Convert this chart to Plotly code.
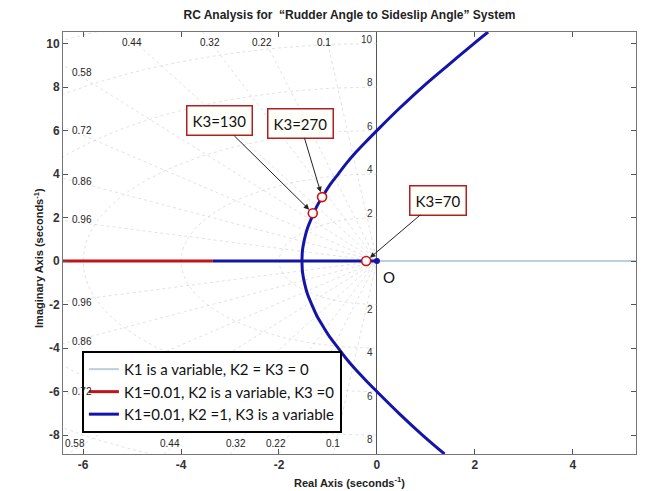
import numpy as np
import plotly.graph_objects as go

# ---- root-locus data (real, imaginary) ----
k1_re = [0.0, 5.3]
k1_im = [0.0, 0.0]

k2_re = [-6.45, -3.35]
k2_im = [0.0, 0.0]

k3_axis_re = [-3.35, 0.0]
k3_axis_im = [0.0, 0.0]

k3_upper_re = [-1.53, -1.52, -1.48, -1.42, -1.33, -1.23, -1.10, -0.96, -0.79, -0.62, -0.43, -0.22, 0.0, 0.45, 0.93, 1.45, 1.98, 2.27]
k3_upper_im = [0.0, 0.5, 1.0, 1.5, 2.0, 2.5, 3.0, 3.5, 4.0, 4.5, 5.0, 5.5, 6.0, 7.0, 8.0, 9.0, 10.0, 10.53]
k3_lower_re = [-1.53, -1.52, -1.48, -1.42, -1.33, -1.23, -1.10, -0.96, -0.79, -0.62, -0.43, -0.22, 0.0, 0.45, 0.93, 1.38]
k3_lower_im = [0.0, -0.5, -1.0, -1.5, -2.0, -2.5, -3.0, -3.5, -4.0, -4.5, -5.0, -5.5, -6.0, -7.0, -8.0, -8.87]

# highlighted gains
gain_labels = ["K3=70", "K3=130", "K3=270"]
gain_re = [-0.22, -1.31, -1.12]
gain_im = [0.0, 2.2, 2.94]
label_re = [1.24, -3.22, -1.57]
label_im = [2.8, 6.44, 6.34]

# s-plane grid values
zeta_vals = [0.1, 0.22, 0.32, 0.44, 0.58, 0.72, 0.86, 0.96]
wn_vals = [2, 4, 6, 8, 10, 12]

zeta_top = ["0.44", "0.32", "0.22", "0.1"]
zeta_top_re = [-5.0, -3.41, -2.35, -1.08]
zeta_left = ["0.58", "0.72", "0.86", "0.96", "0.96", "0.86", "0.72"]
zeta_left_im = [8.69, 5.98, 3.68, 1.89, -1.89, -3.72, -5.98]
zeta_bottom = ["0.58", "0.44", "0.32", "0.22", "0.1"]
zeta_bottom_re = [-6.16, -4.22, -2.88, -2.06, -0.9]
wn_label_im = [10, 8, 6, 4, 2, -2, -4, -6, -8]

x_ticks = [-6, -4, -2, 0, 2, 4]
y_ticks = [-8, -6, -4, -2, 0, 2, 4, 6, 8, 10]

BLUE = "#1414a8"
RED = "#c0141a"
LIGHT = "#bccddf"
GRID = "rgba(185,185,185,0.42)"
NARROW = "Liberation Sans Narrow, Arial Narrow, Liberation Sans, Arial"
CAL = "Lato, Carlito, Liberation Sans"

fig = go.Figure()

# grid: constant damping rays
for z in zeta_vals:
    s = np.sqrt(1 - z * z)
    fig.add_trace(go.Scatter(x=[-16 * z, 0, -16 * z], y=[16 * s, 0, -16 * s], mode="lines",
                             line=dict(color=GRID, width=1, dash="dot"),
                             showlegend=False, hoverinfo="skip"))
# grid: constant natural-frequency arcs
th = np.linspace(np.pi / 2, 3 * np.pi / 2, 120)
for w in wn_vals:
    fig.add_trace(go.Scatter(x=w * np.cos(th), y=w * np.sin(th), mode="lines",
                             line=dict(color=GRID, width=1, dash="dot"),
                             showlegend=False, hoverinfo="skip"))

fig.add_trace(go.Scatter(x=k1_re, y=k1_im, mode="lines", line=dict(color=LIGHT, width=2),
                         name="K1 is a variable, K2 = K3 = 0", legendgroup="a"))
fig.add_trace(go.Scatter(x=k2_re, y=k2_im, mode="lines", line=dict(color=RED, width=3),
                         name="K1=0.01, K2 is a variable, K3 =0", legendgroup="b"))
fig.add_trace(go.Scatter(x=k3_axis_re, y=k3_axis_im, mode="lines", line=dict(color=BLUE, width=3),
                         name="K1=0.01, K2 =1, K3 is a variable", legendgroup="c"))
fig.add_trace(go.Scatter(x=k3_upper_re, y=k3_upper_im, mode="lines", line=dict(color=BLUE, width=3, shape="spline"),
                         showlegend=False, legendgroup="c"))
fig.add_trace(go.Scatter(x=k3_lower_re, y=k3_lower_im, mode="lines", line=dict(color=BLUE, width=3, shape="spline"),
                         showlegend=False, legendgroup="c"))
fig.add_trace(go.Scatter(x=[0], y=[0], mode="markers", marker=dict(color=BLUE, size=6),
                         showlegend=False, legendgroup="c"))
fig.add_trace(go.Scatter(x=gain_re, y=gain_im, mode="markers",
                         marker=dict(color="white", size=9, line=dict(color="#d01010", width=1.6)),
                         showlegend=False, legendgroup="c"))

ann = []
for t, x, y, ax, ay in zip(gain_labels, gain_re, gain_im, label_re, label_im):
    ann.append(dict(x=x, y=y, ax=ax, ay=ay, xref="x", yref="y", axref="x", ayref="y",
                    text=t, showarrow=True, arrowhead=2, arrowsize=1.1, arrowwidth=1,
                    arrowcolor="#222", standoff=5,
                    font=dict(family=CAL, size=15, color="#111"),
                    bgcolor="#fffffa", bordercolor="#b02020", borderwidth=1.5, borderpad=5))

lab_font = dict(family=NARROW, size=10, color="#222")
for t, x in zip(zeta_top, zeta_top_re):
    ann.append(dict(x=x, y=10.07, xref="x", yref="y", text=t, showarrow=False, font=lab_font))
for t, y in zip(zeta_left, zeta_left_im):
    ann.append(dict(x=-6.02, y=y, xref="x", yref="y", text=t, showarrow=False, font=lab_font))
for t, x in zip(zeta_bottom, zeta_bottom_re):
    ann.append(dict(x=x, y=-8.37, xref="x", yref="y", text=t, showarrow=False, font=lab_font))
for y in wn_label_im:
    ann.append(dict(x=-0.03, y=y, xref="x", yref="y", text=str(abs(y)), showarrow=False,
                    xanchor="right", yanchor="bottom" if y > 0 else "top",
                    yshift=-3 if y > 0 else 3, font=dict(family=NARROW, size=10, color="#333")))
ann.append(dict(x=0.08, y=-0.25, xref="x", yref="y", text="O", showarrow=False,
                xanchor="left", yanchor="top", font=dict(family=CAL, size=15, color="#111")))

# axis titles
title_font = dict(family=NARROW, size=11, color="#222", weight="bold")
ann.append(dict(x=0.5, y=-0.088, xref="paper", yref="paper", text="Real Axis (seconds<sup>-1</sup>)",
                showarrow=False, font=title_font))
ann.append(dict(x=-0.058, y=0.464, xref="paper", yref="paper", text="Imaginary Axis (seconds<sup>-1</sup>)",
                showarrow=False, textangle=-90, font=title_font))

axis_common = dict(showgrid=False, ticks="inside", ticklen=5, tickcolor="#555",
                   showline=True, linecolor="#777", linewidth=1, mirror="ticks",
                   tickfont=dict(family=NARROW, size=12, color="#333", weight="bold"))

fig.update_layout(
    width=650, height=491,
    margin=dict(l=63, r=14, t=32, b=37),
    paper_bgcolor="white", plot_bgcolor="white",
    title=dict(text="RC Analysis for  \u201cRudder Angle to Sideslip Angle\u201d System",
               x=0.5, xref="paper", xanchor="center", y=1 - 15 / 491, yref="container", yanchor="middle",
               font=dict(family=NARROW, size=12, color="#222", weight="bold")),
    xaxis=dict(range=[-6.41, 5.29], tickvals=x_ticks, ticktext=[str(v) for v in x_ticks],
               zeroline=True, zerolinecolor="#555", zerolinewidth=1.2, **axis_common),
    yaxis=dict(range=[-8.87, 10.53], tickvals=y_ticks, ticktext=[str(v) for v in y_ticks],
               zeroline=True, zerolinecolor="#dcdcdc", zerolinewidth=1, **axis_common),
    legend=dict(x=0.033, y=0.05, xanchor="left", yanchor="bottom", bgcolor="white",
                bordercolor="black", borderwidth=2,
                font=dict(family=CAL, size=15, color="#111"),
                itemwidth=30, tracegroupgap=0),
    annotations=ann,
)

fig.write_html("out.html")
